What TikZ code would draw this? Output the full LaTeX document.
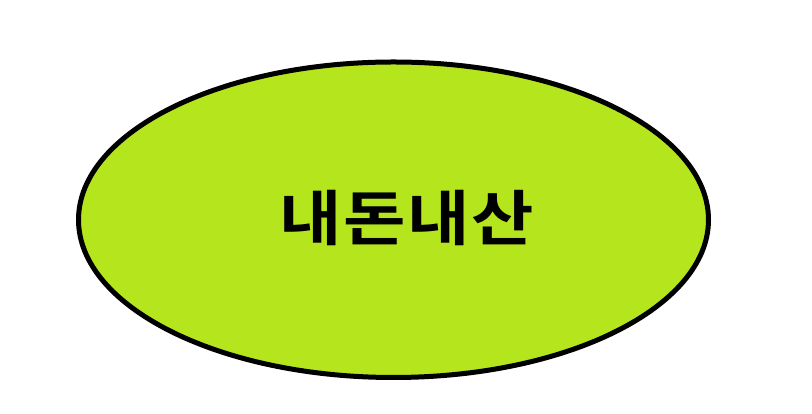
\documentclass[tikz,border=0pt]{standalone}
\usepackage{fontspec}
\newfontfamily\kr{Noto Sans CJK KR}[BoldFont={Noto Sans CJK KR Bold},BoldFeatures={FakeStretch=1.13}]
\definecolor{lime}{HTML}{B5E61D}
\begin{document}
\begin{tikzpicture}[x=1pt,y=1pt,
  blob/.style={draw=black,line width=5pt,fill=lime}]
\useasboundingbox (0,0) rectangle (812,414);
\draw[blob] (393.5,194.25) ellipse [x radius=315, y radius=157.75];
\node (t) at (406.5,195.5) {\kr\bfseries\fontsize{60}{60}\selectfont 내\hspace{1.5pt}돈\hspace{1.5pt}내\hspace{1.5pt}산};
\end{tikzpicture}
\end{document}
